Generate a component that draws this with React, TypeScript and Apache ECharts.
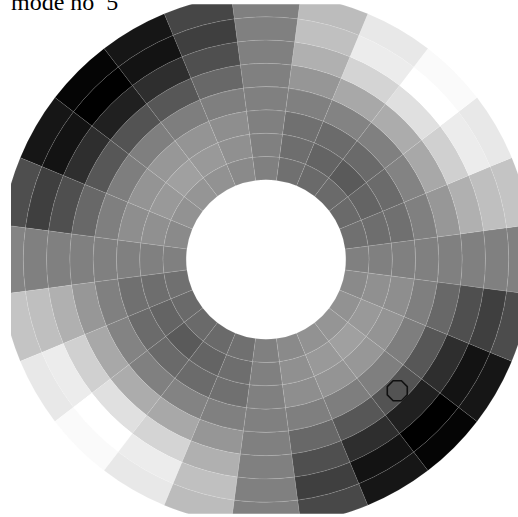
import React, { useEffect, useRef } from "react";
import * as echarts from "echarts";

const titleText = "mode no  5";
const ringEdges = [0.3, 0.3875, 0.475, 0.5625, 0.65, 0.7375, 0.825, 0.9125, 1.0];
const sectorCenters = [0, 15, 30, 45, 60, 75, 90, 105, 120, 135, 150, 165, 180, 195, 210, 225, 240, 255, 270, 285, 300, 315, 330, 345];
const sectorWidth = 15;
// Gray level of each cell, one row per sector, inner ring to outer ring
const grayLevels = [
  [128, 128, 128, 128, 128, 128, 128, 128],
  [112, 110, 112, 128, 151, 176, 191, 196],
  [106, 100, 107, 131, 168, 208, 236, 232],
  [106, 90, 106, 128, 172, 224, 255, 250],
  [106, 100, 107, 131, 168, 212, 236, 232],
  [112, 110, 112, 128, 150, 176, 192, 188],
  [128, 128, 128, 128, 128, 128, 128, 128],
  [138, 144, 142, 127, 104, 79, 63, 70],
  [146, 153, 148, 126, 87, 46, 19, 22],
  [149, 160, 151, 127, 83, 32, 0, 5],
  [146, 153, 148, 126, 87, 46, 19, 22],
  [138, 144, 142, 127, 104, 79, 63, 78],
  [128, 128, 128, 128, 128, 128, 128, 132],
  [112, 110, 112, 128, 151, 176, 191, 196],
  [106, 100, 107, 131, 168, 208, 236, 232],
  [106, 90, 106, 128, 172, 224, 255, 250],
  [106, 100, 107, 131, 168, 212, 236, 232],
  [112, 110, 112, 128, 150, 176, 192, 188],
  [128, 128, 128, 128, 128, 128, 128, 128],
  [138, 144, 142, 127, 104, 79, 63, 72],
  [146, 153, 148, 126, 87, 46, 19, 22],
  [149, 160, 151, 127, 83, 32, 0, 5],
  [146, 153, 148, 126, 87, 46, 19, 22],
  [138, 144, 142, 127, 104, 79, 63, 76],
];
const markerPoints = [[0.698, 315]];

const cells: number[][] = [];
sectorCenters.forEach((angle, s) => {
  grayLevels[s].forEach((gray, ring) => {
    cells.push([ring, angle, gray]);
  });
});

const octagon =
  "path://M-4.14,-10 L4.14,-10 L10,-4.14 L10,4.14 L4.14,10 L-4.14,10 L-10,4.14 L-10,-4.14 Z";

export default function App() {
  const ref = useRef<HTMLDivElement>(null);
  useEffect(() => {
    const chart = echarts.init(ref.current!, undefined, { renderer: "svg" });
    chart.setOption({
      animation: false,
      backgroundColor: "#ffffff",
      polar: { center: [266, 259.5], radius: [0, 266] },
      angleAxis: {
        type: "value",
        min: 0,
        max: 360,
        startAngle: 0,
        clockwise: false,
        show: false,
      },
      radiusAxis: { type: "value", min: 0, max: 1, show: false },
      title: {
        text: titleText,
        left: 11,
        top: -10,
        padding: 0,
        textStyle: {
          fontFamily: "Liberation Serif",
          fontSize: 24,
          fontWeight: "normal",
          color: "#000",
        },
      },
      series: [
        {
          type: "custom",
          coordinateSystem: "polar",
          silent: true,
          clip: false,
          data: cells,
          renderItem: (params: any, api: any) => {
            const ring = api.value(0);
            const angle = api.value(1);
            const gray = api.value(2);
            const sys = params.coordinateSystem ?? params.coordSys;
            const cx = sys.cx;
            const cy = sys.cy;
            const a = api.coord([ringEdges[ring], angle - sectorWidth / 2]);
            const b = api.coord([ringEdges[ring + 1], angle + sectorWidth / 2]);
            const r0 = Math.hypot(a[0] - cx, a[1] - cy);
            const r = Math.hypot(b[0] - cx, b[1] - cy);
            const start = Math.atan2(b[1] - cy, b[0] - cx);
            let end = Math.atan2(a[1] - cy, a[0] - cx);
            if (end < start) end += Math.PI * 2;
            return {
              type: "sector",
              shape: { cx, cy, r0, r, startAngle: start, endAngle: end, clockwise: true },
              style: {
                fill: `rgb(${gray},${gray},${gray})`,
                stroke: "rgba(255,255,255,0.2)",
                lineWidth: 0.5,
              },
              clipPath: { type: "rect", shape: { x: 11, y: 4.3, width: 510, height: 509.5 } },
            };
          },
        },
        {
          type: "scatter",
          coordinateSystem: "polar",
          silent: true,
          data: markerPoints,
          symbol: octagon,
          symbolSize: 20,
          z: 5,
          itemStyle: { color: "transparent", borderColor: "#000000", borderWidth: 1.6 },
        },
      ],
    });
    return () => chart.dispose();
  }, []);
  return <div ref={ref} style={{ position: "fixed", left: 0, top: 0, width: 518, height: 517 }} />;
}
